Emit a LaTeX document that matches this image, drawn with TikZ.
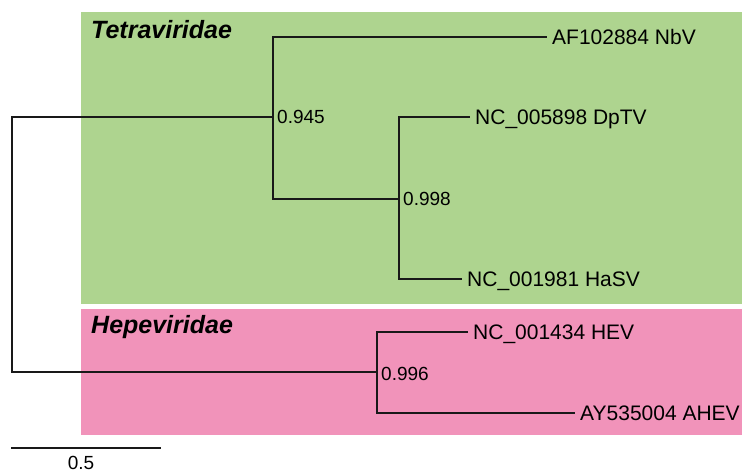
\documentclass[tikz,border=0pt]{standalone}
\usepackage{fontspec}
\setmainfont{Liberation Sans}
\usetikzlibrary{positioning}
\definecolor{tetragreen}{RGB}{174,212,143}
\definecolor{hepepink}{RGB}{241,147,186}

\begin{document}
\begin{tikzpicture}[x=1pt,y=-1pt]
\tikzset{
  branch/.style={line width=1.8pt,black!90},
  leaf/.style={anchor=west,inner sep=5pt,font=\fontsize{21}{25}\selectfont,text height=15pt,text depth=0pt},
  support/.style={anchor=west,inner sep=4pt,font=\fontsize{19}{22}\selectfont},
  clade/.style={anchor=base west,inner sep=0pt,font=\fontsize{25}{30}\selectfont\bfseries\itshape}
}
\useasboundingbox (0,0) rectangle (742,473);
% clade boxes
\fill[tetragreen] (81,12) rectangle (742,304);
\fill[hepepink] (81,309) rectangle (742,435);
\node[clade] (tetra) at (91,39) {Tetraviridae};
\node[clade] (hepe) at (91,334) {Hepeviridae};
% internal nodes
\coordinate (root) at (12,244.5);
\coordinate (ntetra) at (273,117);
\coordinate (ninner) at (399,199);
\coordinate (nhepe) at (377,372);
% leaves
\node[leaf] (nbv) at (547,37) {AF102884 NbV};
\node[leaf] (dptv) at (470,117) {NC\_005898 DpTV};
\node[leaf] (hasv) at (462,279) {NC\_001981 HaSV};
\node[leaf] (hev) at (468,332) {NC\_001434 HEV};
\node[leaf] (ahev) at (575,413) {AY535004 AHEV};
% branches
\draw[branch] (root) |- (ntetra); \draw[branch] (root) |- (nhepe);
\draw[branch] (ntetra) |- (nbv); \draw[branch] (ntetra) |- (ninner);
\draw[branch] (ninner) |- (dptv); \draw[branch] (ninner) |- (hasv);
\draw[branch] (nhepe) |- (hev); \draw[branch] (nhepe) |- (ahev);
% support values
\node[support] (s945) at (ntetra) {0.945};
\node[support] (s998) at (ninner) {0.998};
\node[support,yshift=-2pt] (s996) at (nhepe) {0.996};
% scale bar
\coordinate (sbleft) at (11,448);
\coordinate (sbright) at (161,448);
\draw[branch] (sbleft) -- (sbright);
\node[support,anchor=base,inner sep=0pt] (sblabel) at (81,469.5) {0.5};
\end{tikzpicture}
\end{document}
